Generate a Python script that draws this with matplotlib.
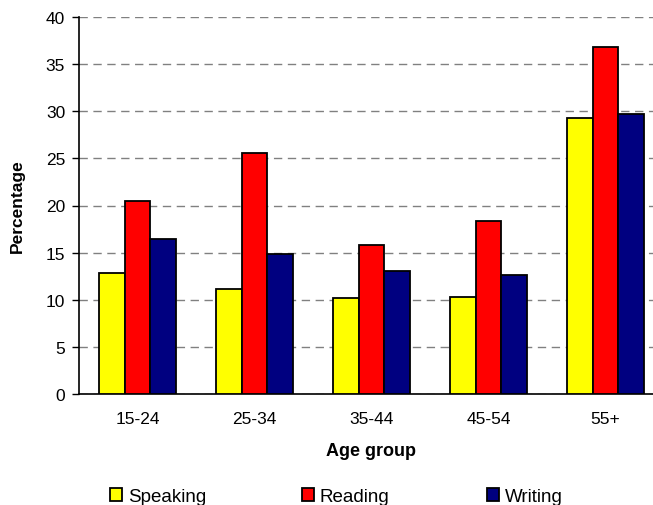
import numpy as np
import matplotlib.pyplot as plt
from matplotlib.patches import Patch

plt.rcParams['font.family'] = ['Liberation Sans', 'DejaVu Sans']

# data
age_groups = ['15-24', '25-34', '35-44', '45-54', '55+']
speaking = [12.8, 11.1, 10.2, 10.3, 29.3]
reading = [20.5, 25.6, 15.8, 18.4, 36.8]
writing = [16.4, 14.9, 13.0, 12.6, 29.7]

series = [('Speaking', speaking, '#FFFF00'),
          ('Reading', reading, '#FF0000'),
          ('Writing', writing, '#000080')]

fig = plt.figure(figsize=(6.53, 5.06), dpi=100)
# axes runs a little past the right edge, like the original
ax = fig.add_axes([79 / 653, 1 - 395 / 506, 585 / 653, 377 / 506])

x = np.arange(len(age_groups))
w = 0.222
for i, (name, vals, col) in enumerate(series):
    ax.bar(x + (i - 1) * w, vals, width=w, color=col, edgecolor='black',
           linewidth=1.3, label=name, zorder=3)

ax.set_xlim(-0.5, len(age_groups) - 0.5)
ax.set_ylim(0, 40)
ax.set_yticks(range(0, 41, 5))
ax.set_xticks(x)
ax.set_xticklabels(age_groups)
ax.tick_params(axis='x', length=0, pad=12, labelsize=12.5)
ax.tick_params(axis='y', length=5, width=1, labelsize=12.5, pad=5)

ax.yaxis.grid(True, color='#808080', linestyle=(0, (6, 4)), linewidth=1, zorder=0)
ax.spines['top'].set_visible(False)
ax.spines['right'].set_visible(False)
ax.spines['left'].set_linewidth(1.2)
ax.spines['bottom'].set_linewidth(1.2)

ax.set_ylabel('Percentage', fontsize=12.5, fontweight='bold')
ax.yaxis.set_label_coords((17 - 79) / 585, 0.5)
ax.set_xlabel('Age group', fontsize=13, fontweight='bold')
ax.xaxis.set_label_coords((371 - 79) / 585, -(452 - 395) / 377)
ax.xaxis.label.set_va('center')
ax.yaxis.label.set_va('center')

# legend: one entry per column, fixed spacing
leg_x = [110, 302, 487]
for (name, vals, col), lx in zip(series, leg_x):
    h = Patch(facecolor=col, edgecolor='black', linewidth=1.3)
    fig.legend([h], [name], loc='center left',
               bbox_to_anchor=(lx / 653, 1 - 497.5 / 506), frameon=False,
               fontsize=13.5, handlelength=0.65, handleheight=0.65,
               handletextpad=0.3, borderpad=0, borderaxespad=0)

plt.savefig('out.png', dpi=100)
